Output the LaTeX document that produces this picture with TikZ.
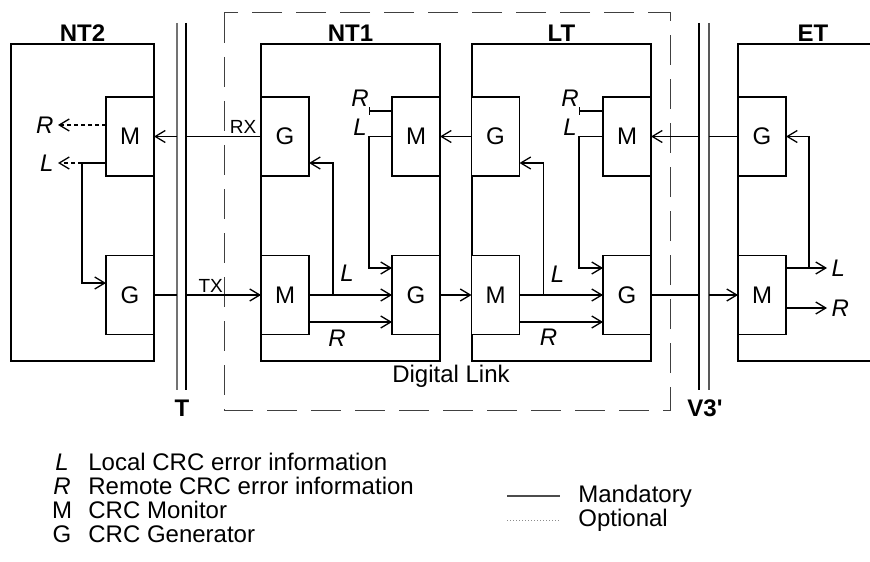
\documentclass[tikz,border=0pt]{standalone}
\usepackage{fontspec}
\setmainfont{Liberation Sans}
\usetikzlibrary{arrows.meta, positioning, calc}

\begin{document}
\begin{tikzpicture}[
    x=0.5pt, y=-0.5pt,
    font=\fontsize{12}{14}\selectfont,
    equip/.style={rectangle, draw, line width=0.65pt, outer sep=0pt,
                  minimum width=89.5pt, minimum height=158.5pt},
    unit/.style={rectangle, draw, fill=white, line width=0.65pt, outer sep=0pt,
                 minimum width=24pt, minimum height=39.5pt},
    title/.style={font=\fontsize{12}{14}\selectfont\bfseries, inner sep=1pt},
    sig/.style={line width=0.65pt},
    arr/.style={sig, -{Straight Barb[length=5pt, width=6pt]}},
    opt/.style={arr, dash pattern=on 2pt off 1.5pt},
    tick/.style={sig, -{Bar[width=4pt]}},
    iface/.style={line width=0.6pt},
    linkbox/.style={line width=0.5pt, black!75, dash pattern=on 15pt off 7pt},
    info/.style={font=\fontsize{12}{14}\selectfont\itshape, inner sep=2pt},
    port/.style={font=\fontsize{9.5}{11}\selectfont, inner sep=1pt},
    key/.style={anchor=west, inner sep=0pt}
  ]
  \useasboundingbox (0,0) rectangle (870,561);

  % Digital link
  \draw[linkbox] (224,13) rectangle (670,410);
  \node (digital) at (451,376) {Digital Link};

  % Reference points T and V3'
  \coordinate (tA) at (177,0);
  \coordinate (tB) at (186,0);
  \coordinate (vA) at (699,0);
  \coordinate (vB) at (709,0);
  \draw[iface, black!55] (177,23) -- (177,390);
  \draw[iface] (186,23) -- (186,390);
  \draw[iface] (699,23) -- (699,390);
  \draw[iface, black!65] (709,23) -- (709,390);
  \node[title] (tname) at (182,408) {T};
  \node[title] (vname) at (705,408) {V3\textquotesingle};

  % Equipment
  \node[equip, minimum width=71.5pt, label={[title]above:NT2}] (ntwo) at (82.5,202.5) {};
  \node[equip, label={[title]above:NT1}] (ntone) at (350.5,202.5) {};
  \node[equip, label={[title]above:LT}] (lt) at (561.5,202.5) {};
  \node[equip, minimum width=75pt, label={[title]above:ET}] (et) at (813,202.5) {};

  % Monitors and generators
  \node[unit] (ntwoM) at (130,136.5) {M};
  \node[unit] (ntwoG) at (130,295) {G};
  \node[unit] (ntoneG) at (285,136.5) {G};
  \node[unit] (ntoneM) at (285,295) {M};
  \node[unit] (ntoneMr) at (416,136.5) {M};
  \node[unit] (ntoneGr) at (416,295) {G};
  \node[unit] (ltG) at (495.5,136.5) {G};
  \node[unit] (ltM) at (495.5,295) {M};
  \node[unit] (ltMr) at (627,136.5) {M};
  \node[unit] (ltGr) at (627,295) {G};
  \node[unit] (etG) at (762,136.5) {G};
  \node[unit] (etM) at (762,295) {M};

  % NT2
  \draw[opt] ($(ntwoM.west)+(0,-11.5)$) -- ++(-48,0) node[info, left] (ntwoR) {R};
  \draw[arr] ($(ntwoM.west)+(0,26.5)$) -- ++(-24,0) coordinate (ntwoLb) |- ($(ntwoG.west)+(0,-12)$);
  \draw[opt] (ntwoLb) -- ++(-24,0) node[info, left] (ntwoL) {L};

  % T interface
  \draw[sig] (ntoneG.west) -- node[port, above, pos=0.24] (rx) {RX} (tB |- ntoneG.west);
  \draw[arr] (tA |- ntoneG.west) -- (ntwoM.east);
  \draw[sig] (ntwoG.east) -- (tA |- ntwoG.east);
  \draw[arr] (tB |- ntwoG.east) -- node[port, above, pos=0.33] (tx) {TX} (ntoneM.west);

  % NT1
  \draw[arr] (ntoneM.east) -- (ntoneGr.west);
  \draw[arr] ($(ntoneM.east)+(24,0)$) |- ($(ntoneG.east)+(0,26.5)$);
  \draw[arr] ($(ntoneM.east)+(0,27)$) -- ($(ntoneGr.west)+(0,27)$);
  \draw[tick] ($(ntoneMr.west)+(0,-25.5)$) -- ++(-23,0);
  \draw[arr] (ntoneMr.west) -- ++(-23,0) |- ($(ntoneGr.west)+(0,-27)$);
  \node[info] at ($(ntoneM.east)+(38,-22)$) {L};
  \node[info] at ($(ntoneM.east)+(28,43)$) {R};
  \node[info] at ($(ntoneMr.west)+(-32,-38.5)$) {R};
  \node[info] at ($(ntoneMr.west)+(-32,-9.5)$) {L};

  % NT1 -- LT
  \draw[arr] (ltG.west) -- (ntoneMr.east);
  \draw[arr] (ntoneGr.east) -- (ltM.west);

  % LT
  \draw[arr] (ltM.east) -- (ltGr.west);
  \draw[arr] ($(ltM.east)+(24,0)$) |- ($(ltG.east)+(0,26.5)$);
  \draw[arr] ($(ltM.east)+(0,27)$) -- ($(ltGr.west)+(0,27)$);
  \draw[tick] ($(ltMr.west)+(0,-25.5)$) -- ++(-24,0);
  \draw[arr] (ltMr.west) -- ++(-24,0) |- ($(ltGr.west)+(0,-27)$);
  \node[info] at ($(ltM.east)+(38,-21)$) {L};
  \node[info] at ($(ltM.east)+(29,42)$) {R};
  \node[info] at ($(ltMr.west)+(-33,-38.5)$) {R};
  \node[info] at ($(ltMr.west)+(-33,-9.5)$) {L};

  % V3' interface
  \draw[sig] (etG.west) -- (vB |- etG.west);
  \draw[arr] (vA |- etG.west) -- (ltMr.east);
  \draw[sig] (ltGr.east) -- (vA |- ltGr.east);
  \draw[arr] (vB |- ltGr.east) -- (etM.west);

  % ET
  \draw[arr] ($(etM.east)+(0,-27)$) -- ++(41,0) node[info, right] (etL) {L};
  \draw[arr] ($(etM.east)+(0,13)$) -- ++(41,0) node[info, right] (etR) {R};
  \draw[arr] ($(etM.east)+(23,-27)$) |- (etG.east);

  % Legend
  \node[info] (keyL) at (62,462) {L};
  \node[info] (keyR) at (62,486) {R};
  \node (keyM) at (62,510) {M};
  \node (keyG) at (62,534) {G};
  \node[key] (txtL) at (88,462) {Local CRC error information};
  \node[key] (txtR) at (88,486) {Remote CRC error information};
  \node[key] (txtM) at (88,510) {CRC Monitor};
  \node[key] (txtG) at (88,534) {CRC Generator};
  \node[key] (mand) at (578,496) {Mandatory};
  \node[key] (optl) at (578,520) {Optional};
  \draw[sig, black!70] ($(mand.west)+(-71,0)$) -- ++(53,0);
  \draw[line width=0.5pt, black!45, densely dotted] ($(optl.west)+(-71,0)$) -- ++(53,0);
\end{tikzpicture}
\end{document}
